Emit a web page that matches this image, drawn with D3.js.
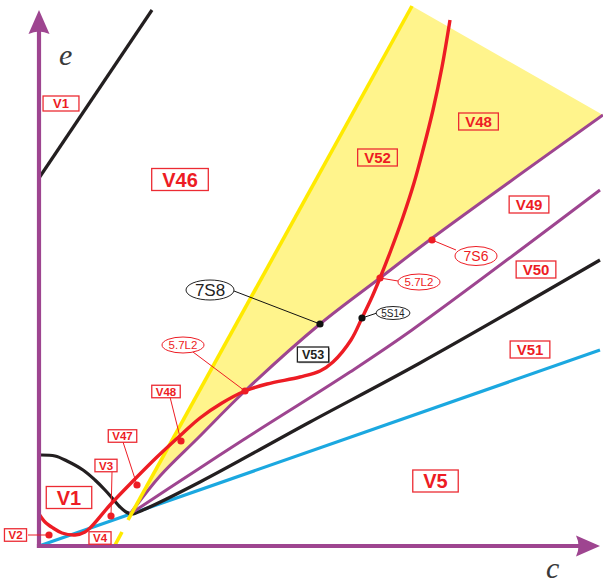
<!DOCTYPE html>
<html>
<head>
<meta charset="utf-8">
<script src="https://cdn.jsdelivr.net/npm/d3@7/dist/d3.min.js"></script>
<style>
  html, body { margin: 0; padding: 0; background: #fff; }
  svg { display: block; }
</style>
</head>
<body>
<svg id="chart" width="603" height="583"></svg>
<script>
// ---- bifurcation curves in the (c, e) parameter plane ----
const redCurve = [
  [0.00, 0.32], [0.06, 0.24], [0.14, 0.18], [0.23, 0.13], [0.36, 0.11], [0.46, 0.14],
  [0.53, 0.20], [0.71, 0.41], [0.94, 0.65], [1.18, 0.89], [1.44, 1.13], [1.61, 1.28],
  [1.83, 1.43], [2.06, 1.55], [2.28, 1.62], [2.61, 1.69], [2.81, 1.75], [2.94, 1.84],
  [3.12, 2.06], [3.23, 2.28], [3.33, 2.49], [3.41, 2.68], [3.52, 2.96], [3.64, 3.29],
  [3.75, 3.63], [3.84, 3.96], [3.94, 4.36], [4.03, 4.79], [4.11, 5.26]
];
const blackCurveLow = [
  [0.00, 0.91], [0.16, 0.90], [0.28, 0.85], [0.44, 0.76], [0.56, 0.66], [0.66, 0.56],
  [0.74, 0.47], [0.81, 0.39], [0.87, 0.34], [0.93, 0.32], [1.04, 0.36], [1.61, 0.64],
  [2.71, 1.24], [3.81, 1.83], [5.61, 2.86]
];
const blackLineHigh = [[0.00, 3.68], [1.13, 5.36]];
const purpleUpper = [
  [0.91, 0.32], [1.21, 0.70], [1.59, 1.08], [2.06, 1.55], [2.81, 2.22], [3.41, 2.68],
  [3.92, 3.07], [5.64, 4.31]
];
const purpleLower = [
  [0.91, 0.32], [1.61, 0.78], [2.04, 1.06], [3.11, 1.74], [3.73, 2.16], [5.61, 3.56]
];
const blueLine = [[0.00, 0.00], [5.61, 1.96]];
const yellowLow = [[0.75, -0.01], [0.83, 0.14]];
const yellowHigh = [[0.89, 0.26], [3.73, 5.40]];
const yellowRegionCorner = [5.64, 4.31];

// ---- region labels ----
const regionNames = ["V1", "V46", "V52", "V48", "V49", "V50", "V51", "V5", "V53", "V1", "V48", "V47", "V3", "V2", "V4"];
const regionC     = [0.22, 1.41, 3.385, 4.395, 4.90, 4.97, 4.91, 3.965, 2.74, 0.30, 1.27, 0.835, 0.67, -0.235, 0.61];
const regionE     = [4.425, 3.665, 3.885, 4.245, 3.415, 2.765, 1.965, 0.65, 1.915, 0.485, 1.545, 1.10, 0.805, 0.11, 0.08];
const regionKind  = ["top", "big", "mid", "mid", "mid", "mid", "mid", "big", "dark", "big", "small", "small", "small", "small", "small"];

// region sample points with leader lines to their labels
const markerC  = [1.42, 0.98, 0.72, 0.10];
const markerE  = [1.05, 0.61, 0.30, 0.11];
const markerFromC = [1.31, 0.84, 0.73, -0.11];
const markerFromE = [1.49, 1.04, 0.74, 0.11];

// ---- special points (codimension-two) ----
const pointNames = ["7S8", "5S14", "5.7L2", "7S6", "5.7L2"];
const pointC     = [2.81, 3.23, 3.41, 3.93, 2.06];
const pointE     = [2.22, 2.28, 2.68, 3.06, 1.55];
const tagC       = [1.71, 3.54, 3.80, 4.37, 1.44];
const tagE       = [2.56, 2.33, 2.64, 2.90, 2.01];
const leaderEndC = [1.95, 3.38, 3.59, 4.17, 1.54];
const leaderEndE = [2.55, 2.33, 2.65, 2.96, 1.94];
const pointKind  = ["blackLarge", "blackSmall", "redSmall", "redMid", "redSmall"];

// ---- colours ----
const RED = "#ED1C24", PURPLE = "#9E4590", BLUE = "#1BA8E0", BLACK = "#231F20",
      YELLOW = "#FFEA00", YELLOW_FILL = "#FFF48C", BOX = "#EC2B33";

const svg = d3.select("#chart");
const x = d3.scaleLinear().domain([0, 5.61]).range([39, 600]);
const y = d3.scaleLinear().domain([0, 5.36]).range([546, 10]);

const smooth = d3.line().x(d => x(d[0])).y(d => y(d[1])).curve(d3.curveCatmullRom.alpha(0.5));
const straight = d3.line().x(d => x(d[0])).y(d => y(d[1]));

// yellow region: top of the yellow line -> corner -> back along the upper purple curve
const purpleRev = purpleUpper.slice().reverse();
const fillPath = "M" + x(yellowHigh[1][0]) + "," + y(yellowHigh[1][1]) +
  "L" + smooth(purpleRev).slice(1) + "L" + x(yellowHigh[0][0] + 0.02) + "," + y(0.31) + "Z";
svg.append("path").attr("d", fillPath).attr("fill", YELLOW_FILL).attr("stroke", "none");

function curve(data, color, width, gen) {
  svg.append("path").attr("d", (gen || smooth)(data))
    .attr("fill", "none").attr("stroke", color).attr("stroke-width", width)
    .attr("stroke-linecap", "butt").attr("stroke-linejoin", "round");
}

curve(blueLine, BLUE, 3.2, straight);
curve(blackCurveLow, BLACK, 3.2);
curve(blackLineHigh, BLACK, 3.2, straight);
curve(purpleLower, PURPLE, 3);
curve(purpleUpper, PURPLE, 3);
curve(yellowLow, YELLOW, 3.6, straight);
curve(yellowHigh, YELLOW, 3.6, straight);
curve(redCurve, RED, 3.4);

// ---- axes (no ticks), with arrow heads ----
const xe = x(5.61), ye = y(0), yt = y(5.36), xo = x(0);
const xAxis = d3.axisBottom(x).tickValues([]).tickSizeOuter(0);
const yAxis = d3.axisLeft(y).tickValues([]).tickSizeOuter(0);
const gx = svg.append("g").attr("transform", `translate(0,${ye})`).call(xAxis);
const gy = svg.append("g").attr("transform", `translate(${xo},0)`).call(yAxis);
[gx, gy].forEach(g => g.select(".domain").attr("stroke", PURPLE).attr("stroke-width", 4.2));
gx.select(".domain").attr("d", `M${xo - 2.1},0H${xe - 18}`);
gy.select(".domain").attr("d", `M0,${ye + 2.1}V${yt + 18}`);

svg.append("path")
  .attr("d", `M${xe},${ye} L${xe - 24},${ye - 10.5} Q${xe - 19},${ye} ${xe - 24},${ye + 10.5} Z`)
  .attr("fill", PURPLE);
svg.append("path")
  .attr("d", `M${xo},${yt} L${xo - 10.5},${yt + 24} Q${xo},${yt + 19} ${xo + 10.5},${yt + 24} Z`)
  .attr("fill", PURPLE);

svg.append("text").attr("x", 59).attr("y", 65).text("e")
  .attr("font-family", "'Liberation Serif', 'DejaVu Serif', serif").attr("font-style", "italic")
  .attr("font-size", 30).attr("fill", "#3a3a3a");
svg.append("text").attr("x", 546).attr("y", 578).text("c")
  .attr("font-family", "'Liberation Serif', 'DejaVu Serif', serif").attr("font-style", "italic")
  .attr("font-size", 30).attr("fill", "#3a3a3a");

// ---- region markers with leaders ----
markerC.forEach((c, i) => {
  svg.append("line")
    .attr("x1", x(markerFromC[i])).attr("y1", y(markerFromE[i]))
    .attr("x2", x(c)).attr("y2", y(markerE[i]))
    .attr("stroke", RED).attr("stroke-width", 1);
  svg.append("circle").attr("cx", x(c)).attr("cy", y(markerE[i])).attr("r", 3.6).attr("fill", RED);
});

// ---- special points with leaders and oval tags ----
const tagStyle = {
  blackLarge: { color: "#222", size: 17, rx: 24, ry: 10 },
  blackSmall: { color: "#222", size: 10, rx: 17, ry: 6.5 },
  redSmall:   { color: RED, size: 11.5, rx: 21, ry: 8 },
  redMid:     { color: RED, size: 14, rx: 21, ry: 9.5 }
};
pointNames.forEach((name, i) => {
  const s = tagStyle[pointKind[i]];
  const lineColor = s.color === RED ? RED : "#111";
  svg.append("line")
    .attr("x1", x(pointC[i])).attr("y1", y(pointE[i]))
    .attr("x2", x(leaderEndC[i])).attr("y2", y(leaderEndE[i]))
    .attr("stroke", lineColor).attr("stroke-width", 1);
  svg.append("circle").attr("cx", x(pointC[i])).attr("cy", y(pointE[i])).attr("r", 3.6)
    .attr("fill", s.color === RED ? RED : "#111");
  svg.append("ellipse").attr("cx", x(tagC[i])).attr("cy", y(tagE[i]))
    .attr("rx", s.rx).attr("ry", s.ry)
    .attr("fill", "#fff").attr("stroke", s.color).attr("stroke-width", 1);
  svg.append("text").attr("x", x(tagC[i])).attr("y", y(tagE[i])).attr("dy", "0.36em")
    .attr("text-anchor", "middle").attr("font-family", "'Liberation Sans', Arial, sans-serif")
    .attr("font-size", s.size).attr("fill", s.color).text(name);
});

// ---- boxed region labels ----
const boxStyle = {
  big:   { size: 20, padX: 10.5, h: 22, color: RED, stroke: BOX },
  top:   { size: 13, padX: 10, h: 15, color: RED, stroke: BOX },
  mid:   { size: 15, padX: 6.5, h: 17, color: RED, stroke: BOX },
  small: { size: 11.5, padX: 4, h: 12.5, color: RED, stroke: BOX },
  dark:  { size: 12.5, padX: 4.5, h: 15, color: BLACK, stroke: "#222" }
};
regionNames.forEach((name, i) => {
  const s = boxStyle[regionKind[i]];
  const g = svg.append("g").attr("transform", `translate(${x(regionC[i])},${y(regionE[i])})`);
  const rect = g.append("rect");
  const t = g.append("text").attr("text-anchor", "middle").attr("dy", "0.36em")
    .attr("font-family", "'Liberation Sans', Arial, sans-serif").attr("font-weight", "bold")
    .attr("font-size", s.size).attr("fill", s.color).text(name);
  const w = t.node().getComputedTextLength() + 2 * s.padX;
  if (regionKind[i] === "dark") {
    g.insert("rect", "rect").attr("x", -w / 2 + 1.2).attr("y", -s.h / 2 + 1.2)
      .attr("width", w).attr("height", s.h).attr("fill", "#999");
    rect.attr("fill", "#fff");
  } else {
    rect.attr("fill", "none");
  }
  rect.attr("x", -w / 2).attr("y", -s.h / 2).attr("width", w).attr("height", s.h)
    .attr("stroke", s.stroke).attr("stroke-width", 1.3);
});
</script>
</body>
</html>
